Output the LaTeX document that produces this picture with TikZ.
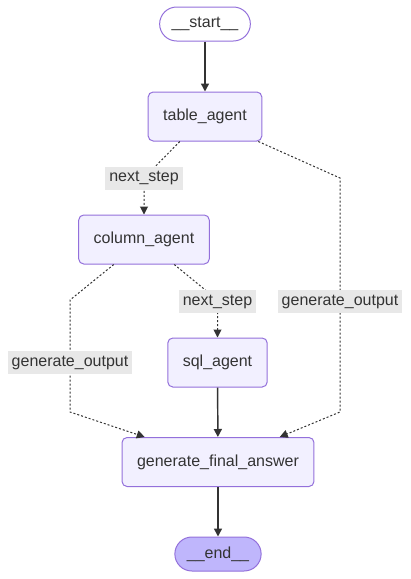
\documentclass[tikz,border=0pt]{standalone}
\usepackage{fontspec}
\setmainfont{Liberation Sans}
\usetikzlibrary{arrows.meta,calc}
\definecolor{nodefill}{HTML}{F2F0FF}
\definecolor{nodeline}{HTML}{9370DB}
\definecolor{endfill}{HTML}{BFB6FC}
\definecolor{labelfill}{HTML}{E8E8E8}
\definecolor{ink}{HTML}{333333}
\tikzset{
  agent/.style={rectangle, draw=nodeline, fill=nodefill, line width=0.75pt, rounded corners=3.75pt, minimum height=36.75pt, inner xsep=11.25pt, text=ink, font=\fontsize{12}{14}\selectfont},
  terminal/.style={rectangle, draw=nodeline, line width=0.75pt, rounded corners=12.75pt, minimum height=25.5pt, inner xsep=9pt, text=ink, font=\fontsize{12}{14}\selectfont},
  startnode/.style={terminal, fill=white},
  endnode/.style={terminal, fill=endfill},
  edgelabel/.style={fill=labelfill, text=ink, inner xsep=3pt, inner ysep=0pt, minimum height=17.25pt, font=\fontsize{12}{14}\selectfont},
  arrow/.style={-{Triangle[length=6pt,width=6pt]}, line width=1.1pt, ink},
  dotarrow/.style={-{Triangle[length=6pt,width=6pt]}, line width=0.75pt, ink, dash pattern=on 1.5pt off 1.5pt}
}
\begin{document}
\begin{tikzpicture}[x=0.75pt, y=-0.75pt]
  \useasboundingbox (0,0) rectangle (411,579);
  \node[startnode] (start) at (205,24) {\_\_start\_\_};
  \node[agent] (tab) at (205,116.5) {table\_agent};
  \node[agent] (col) at (144,239.5) {column\_agent};
  \node[agent] (sql) at (217.5,362.5) {sql\_agent};
  \node[agent] (ans) at (218,462) {generate\_final\_answer};
  \node[endnode] (fin) at (218,554) {\_\_end\_\_};
  \draw[arrow] (start) -- (tab);
  \draw[dotarrow] ($(tab.south west)!0.28!(tab.south east)$) -- (144,178) node[edgelabel] {next\_step} -- (col.north);
  \draw[dotarrow] ($(tab.south west)!0.965!(tab.south east)$) -- (340,178) -- (340,301.5) node[edgelabel] {generate\_output} -- (340,412) -- ($(ans.north west)!0.82!(ans.north east)$);
  \draw[dotarrow] ($(col.south west)!0.27!(col.south east)$) -- (70,300) -- (70,362.5) node[edgelabel] {generate\_output} -- (70,412) -- ($(ans.north west)!0.12!(ans.north east)$);
  \draw[dotarrow] ($(col.south west)!0.73!(col.south east)$) -- (217.5,300) -- (217.5,301.5) node[edgelabel] {next\_step} -- (sql.north);
  \draw[arrow] (sql) -- (ans);
  \draw[arrow] (ans) -- (fin);
\end{tikzpicture}
\end{document}
